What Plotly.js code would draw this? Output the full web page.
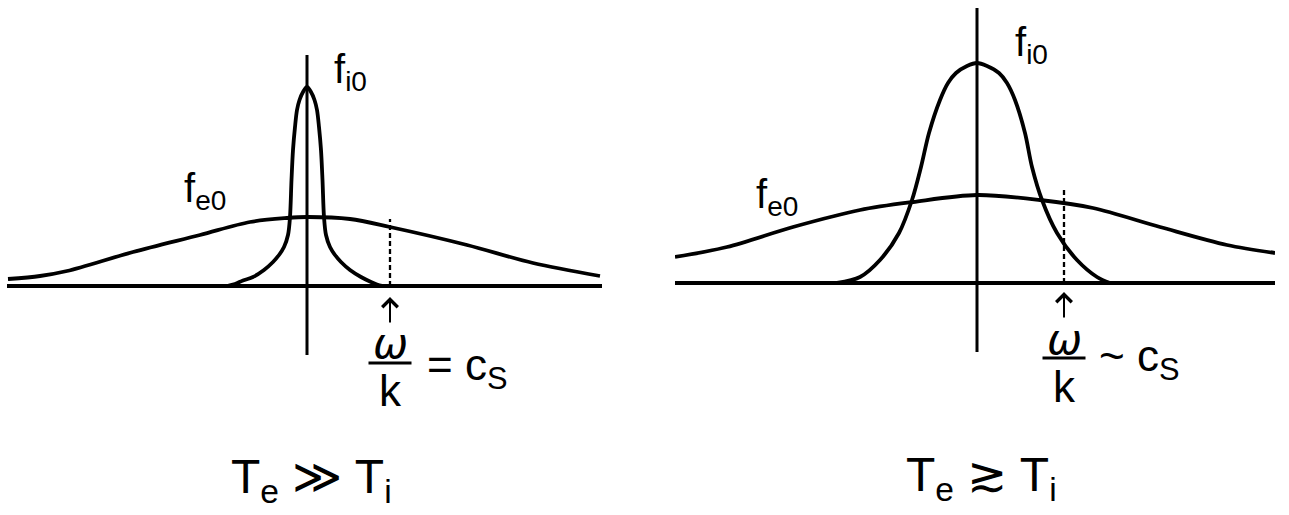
<!DOCTYPE html>
<html>
<head>
<meta charset="utf-8">
<script src="https://cdn.plot.ly/plotly-3.0.1.min.js"></script>
<style>
  html, body { margin: 0; padding: 0; background: #ffffff; }
  #chart { width: 1289px; height: 515px; }
</style>
</head>
<body>
<div id="chart"></div>
<script>
// Left panel: hot electrons, cold ions (T_e >> T_i)
const feHotV = [-2.99, -2.67, -2.40, -1.74, -1.07, -0.57, -0.20, 0, 0.43, 0.83, 1.60, 2.26, 2.93];
const feHotF = [0.07, 0.10, 0.15, 0.34, 0.51, 0.64, 0.68, 0.69, 0.67, 0.59, 0.41, 0.23, 0.10];
const fiColdV = [-0.80, -0.72, -0.64, -0.54, -0.43, -0.34, -0.28, -0.23, -0.19, -0.17, -0.155, -0.14, -0.12, -0.10, -0.075, -0.04, 0,
                 0.04, 0.075, 0.10, 0.12, 0.14, 0.155, 0.17, 0.19, 0.23, 0.28, 0.34, 0.43, 0.54, 0.64, 0.70, 0.76];
const fiColdF = [0, 0.02, 0.055, 0.09, 0.16, 0.24, 0.31, 0.39, 0.51, 0.69, 1.06, 1.36, 1.59, 1.76, 1.86, 1.94, 1.99,
                 1.94, 1.86, 1.76, 1.59, 1.36, 1.06, 0.69, 0.51, 0.39, 0.31, 0.24, 0.16, 0.09, 0.04, 0.015, 0];
const phaseHot = 0.83;          // omega/k = c_s
const phaseHotMarkTop = 0.67;
const fAxisHot = [-0.69, 2.31];  // extent of the f axis

// Right panel: comparable temperatures (T_e >~ T_i)
const feWarmV = [-3.02, -2.50, -1.84, -1.17, -0.64, 0, 0.63, 1.16, 1.83, 2.50, 2.98];
const feWarmF = [0.26, 0.36, 0.56, 0.73, 0.81, 0.88, 0.83, 0.75, 0.56, 0.38, 0.30];
const fiWarmV = [-1.40, -1.17, -0.97, -0.78, -0.65, -0.56, -0.48, -0.37, -0.29, -0.21, -0.10, 0,
                 0.10, 0.22, 0.30, 0.38, 0.48, 0.55, 0.65, 0.80, 1.00, 1.20, 1.33];
const fiWarmF = [0, 0.06, 0.23, 0.50, 0.83, 1.16, 1.50, 1.83, 2.00, 2.10, 2.17, 2.20,
                 2.17, 2.10, 2.00, 1.83, 1.50, 1.16, 0.83, 0.50, 0.23, 0.06, 0];
const phaseWarm = 0.87;         // omega/k ~ c_s
const phaseWarmMarkTop = 0.95;
const fAxisWarm = [-0.69, 2.75];

// Text
const labelFe = 'f<sub>e0</sub>';
const labelFi = 'f<sub>i0</sub>';
const captionHot = 'T<sub>e</sub> \u226B T<sub>i</sub>';
const captionWarm = 'T<sub>e</sub> \u2273 T<sub>i</sub>';
const relHot = '= c<sub>S</sub>';
const relWarm = '~ c<sub>S</sub>';

const INK = '#000000';
const FONT = 'Liberation Sans, Arial, Helvetica, sans-serif';

function curve(x, y, xa, ya, width) {
  return {
    type: 'scatter', mode: 'lines', x: x, y: y, xaxis: xa, yaxis: ya,
    line: { color: INK, width: width, shape: 'spline', smoothing: 0.9 },
    hoverinfo: 'skip'
  };
}
function straight(x, y, xa, ya, width, dash) {
  return {
    type: 'scatter', mode: 'lines', x: x, y: y, xaxis: xa, yaxis: ya,
    line: { color: INK, width: width, dash: dash || 'solid' },
    hoverinfo: 'skip'
  };
}

const traces = [
  // left panel
  straight([0, 0], fAxisHot, 'x', 'y', 3),
  curve(feHotV, feHotF, 'x', 'y', 3.8),
  curve(fiColdV, fiColdF, 'x', 'y', 3.8),
  straight([phaseHot, phaseHot], [0, phaseHotMarkTop], 'x', 'y', 2.3, '5px,3px'),
  // right panel
  straight([0, 0], fAxisWarm, 'x2', 'y2', 3),
  curve(feWarmV, feWarmF, 'x2', 'y2', 3.8),
  curve(fiWarmV, fiWarmF, 'x2', 'y2', 3.8),
  straight([phaseWarm, phaseWarm], [0, phaseWarmMarkTop], 'x2', 'y2', 2.3, '5px,3px')
];

function txt(text, x, y, xr, yr, size, xanchor, extra) {
  return Object.assign({
    text: text, x: x, y: y, xref: xr, yref: yr, showarrow: false,
    xanchor: xanchor || 'center', yanchor: 'middle',
    font: { family: FONT, size: size, color: INK }
  }, extra || {});
}
function upArrow(x, y, xr, yr) {
  return {
    text: '', x: x, y: y, xref: xr, yref: yr, showarrow: true,
    ax: 0, ay: 27, arrowhead: 4, arrowsize: 1.5, arrowwidth: 2, arrowcolor: INK, standoff: 0
  };
}
const omegaFont = { family: 'DejaVu Sans, sans-serif', size: 42, color: INK, style: 'italic' };

const annotations = [
  // left panel
  txt(labelFi, 0.25, 2.14, 'x', 'y', 40, 'left'),
  txt(labelFe, -1.25, 0.95, 'x', 'y', 40, 'left'),
  upArrow(phaseHot, -0.11, 'x', 'y'),
  Object.assign(txt('\u03C9', phaseHot, -0.57, 'x', 'y', 42), { font: omegaFont }),
  txt('k', phaseHot, -1.04, 'x', 'y', 44),
  txt(relHot, 1.18, -0.82, 'x', 'y', 44, 'left'),
  txt(captionHot, 0.04, -1.94, 'x', 'y', 48),
  // right panel
  txt(labelFi, 0.36, 2.38, 'x2', 'y2', 40, 'left'),
  txt(labelFe, -2.23, 0.86, 'x2', 'y2', 40, 'left'),
  upArrow(phaseWarm, -0.09, 'x2', 'y2'),
  Object.assign(txt('\u03C9', phaseWarm, -0.56, 'x2', 'y2', 42), { font: omegaFont }),
  txt('k', phaseWarm, -1.03, 'x2', 'y2', 44),
  txt(relWarm, 1.20, -0.76, 'x2', 'y2', 44, 'left'),
  txt(captionWarm, 0.04, -1.95, 'x2', 'y2', 48)
];

const fracHalf = 0.215;
const shapes = [
  { type: 'line', xref: 'x', yref: 'y', x0: phaseHot - fracHalf, x1: phaseHot + fracHalf, y0: -0.77, y1: -0.77,
    line: { color: INK, width: 3 } },
  { type: 'line', xref: 'x2', yref: 'y2', x0: phaseWarm - fracHalf, x1: phaseWarm + fracHalf, y0: -0.75, y1: -0.75,
    line: { color: INK, width: 3 } }
];

function hAxis(domain, range, anchor) {
  return {
    domain: domain, range: range, anchor: anchor,
    showgrid: false, zeroline: false, showline: false, showticklabels: false, ticks: '', fixedrange: true
  };
}
function fAxis(range, anchor) {
  return {
    domain: [0, 1], range: range, anchor: anchor,
    showgrid: false, showline: false, showticklabels: false, ticks: '', fixedrange: true,
    zeroline: true, zerolinecolor: INK, zerolinewidth: 3.8
  };
}

const layout = {
  width: 1289, height: 515,
  margin: { l: 0, r: 0, t: 0, b: 0 },
  paper_bgcolor: '#ffffff', plot_bgcolor: '#ffffff',
  showlegend: false,
  xaxis: hAxis([7 / 1289, 602 / 1289], [-3.00, 2.95], 'y'),
  yaxis: fAxis([-2.29, 2.86], 'x'),
  xaxis2: hAxis([675 / 1289, 1275 / 1289], [-3.02, 2.98], 'y2'),
  yaxis2: fAxis([-2.32, 2.83], 'x2'),
  annotations: annotations,
  shapes: shapes
};

Plotly.newPlot('chart', traces, layout, { staticPlot: true, displayModeBar: false });
</script>
</body>
</html>
